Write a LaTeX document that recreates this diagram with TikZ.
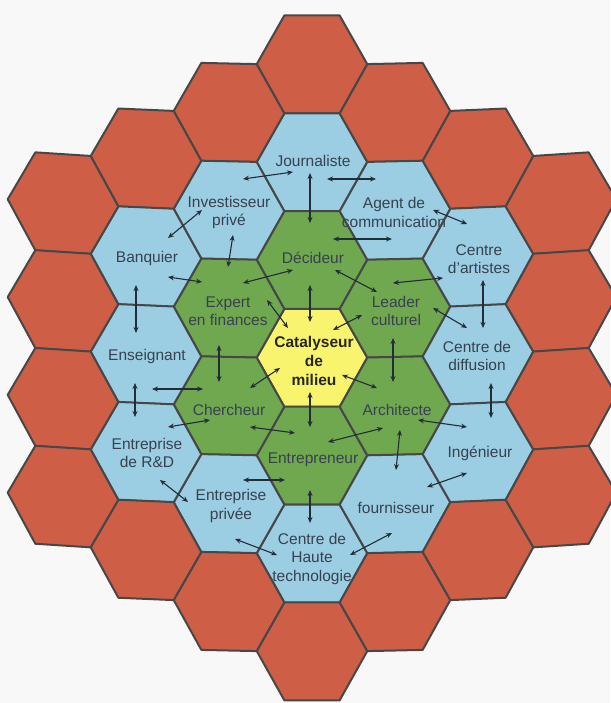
\documentclass[tikz,border=0pt]{standalone}
\usepackage{fontspec}
\setmainfont{Liberation Sans}
\usetikzlibrary{arrows.meta}
\definecolor{hexred}{RGB}{206,94,70}
\definecolor{hexblue}{RGB}{155,205,227}
\definecolor{hexgreen}{RGB}{112,168,80}
\definecolor{hexyellow}{RGB}{249,244,110}
\definecolor{hexline}{RGB}{70,72,72}
\definecolor{txt}{RGB}{55,65,80}
\definecolor{arrc}{RGB}{35,45,55}
\definecolor{bgc}{RGB}{248,248,248}
\tikzset{
  hexcellstyle/.style={draw=hexline, line width=2pt, line join=round},
  lab/.style={font=\fontsize{15.5}{18.5}\selectfont, text=txt, align=center, inner sep=0pt},
  catlab/.style={font=\fontsize{15.5}{19}\selectfont\bfseries, text=black!85, align=center, inner sep=0pt},
  arr/.style={arrc, line width=1.1pt, {Stealth[length=6pt,width=5pt]}-{Stealth[length=6pt,width=5pt]}}
}
\newcommand\hexcell[3]{%
  \pgfmathsetmacro\hxA{#1+55.3}%
  \pgfmathsetmacro\hxB{#1+27.65}%
  \pgfmathsetmacro\hxC{#1-27.65}%
  \pgfmathsetmacro\hxD{#1-55.3}%
  \pgfmathsetmacro\hyA{#2-((\hxA-312)*0.0114)*((\hxA-312)*0.0114)}%
  \pgfmathsetmacro\hyB{#2+49-((\hxB-312)*0.0114)*((\hxB-312)*0.0114)}%
  \pgfmathsetmacro\hyC{#2+49-((\hxC-312)*0.0114)*((\hxC-312)*0.0114)}%
  \pgfmathsetmacro\hyD{#2-((\hxD-312)*0.0114)*((\hxD-312)*0.0114)}%
  \pgfmathsetmacro\hyE{#2-49-((\hxC-312)*0.0114)*((\hxC-312)*0.0114)}%
  \pgfmathsetmacro\hyF{#2-49-((\hxB-312)*0.0114)*((\hxB-312)*0.0114)}%
  \filldraw[hexcellstyle, fill=#3] (\hxA,\hyA) -- (\hxB,\hyB) -- (\hxC,\hyC) -- (\hxD,\hyD) -- (\hxC,\hyE) -- (\hxB,\hyF) -- cycle;%
}
\begin{document}
\begin{tikzpicture}[x=1pt,y=-1pt]
\fill[bgc] (0,0) rectangle (610,703);
\useasboundingbox (0,0) rectangle (610,703);
% hexagon grid
\foreach \hx/\hy/\hc in {
  312/64.6/hexred, 312/162.4/hexblue, 312/260.2/hexgreen, 312/358/hexyellow,
  312/455.8/hexgreen, 312/553.6/hexblue, 312/651.4/hexred,
  229/113.5/hexred, 229/211.3/hexblue, 229/309.1/hexgreen, 229/406.9/hexgreen, 229/504.7/hexblue, 229/602.5/hexred,
  395/113.5/hexred, 395/211.3/hexblue, 395/309.1/hexgreen, 395/406.9/hexgreen, 395/504.7/hexblue, 395/602.5/hexred,
  146/162.4/hexred, 146/260.2/hexblue, 146/358/hexblue, 146/455.8/hexblue, 146/553.6/hexred,
  478/162.4/hexred, 478/260.2/hexblue, 478/358/hexblue, 478/455.8/hexblue, 478/553.6/hexred,
  63/211.3/hexred, 63/309.1/hexred, 63/406.9/hexred, 63/504.7/hexred,
  561/211.3/hexred, 561/309.1/hexred, 561/406.9/hexred, 561/504.7/hexred}
  {\hexcell{\hx}{\hy}{\hc}}
% labels
\node[lab] (jour) at (313,161) {Journaliste};
\node[lab] (inv) at (229,212.5) {Investisseur\\privé};
\node[lab] (agent) at (394,212.5) {Agent de\\communication};
\node[lab] (banq) at (147,258) {Banquier};
\node[lab] (deci) at (313,258) {Décideur};
\node[lab] (cart) at (479,259) {Centre\\d'artistes};
\node[lab] (expert) at (228,311) {Expert\\en finances};
\node[lab] (leader) at (396,311) {Leader\\culturel};
\node[catlab] (cat) at (314,361) {Catalyseur\\de\\milieu};
\node[lab] (ens) at (147,356) {Enseignant};
\node[lab] (cdiff) at (477,356) {Centre de\\diffusion};
\node[lab] (cherch) at (229,410) {Chercheur};
\node[lab] (archi) at (397,410) {Architecte};
\node[lab] (rd) at (147,453) {Entreprise\\de R\&D};
\node[lab] (ing) at (480,453) {Ingénieur};
\node[lab] (entr) at (313,460) {Entrepreneur};
\node[lab] (epriv) at (231,506) {Entreprise\\privée};
\node[lab] (fourn) at (396,508) {fournisseur};
\node[lab] (cht) at (312,558.5) {Centre de\\Haute\\technologie};
% arrows
\draw[arr] (243,179) -- (293,172);
\draw[arr] (327,179) -- (376,179);
\draw[arr] (310,173) -- (310,223);
\draw[arr] (433,210) -- (467,224);
\draw[arr] (202,210) -- (168,238);
\draw[arr] (233,235) -- (228,267);
\draw[arr] (333,239) -- (392,239);
\draw[arr] (293,270) -- (243,283);
\draw[arr] (335,270) -- (377,292);
\draw[arr] (310,285) -- (310,322);
\draw[arr] (267,300) -- (288,328);
\draw[arr] (362,315) -- (333,330);
\draw[arr] (280,368) -- (250,388);
\draw[arr] (342,375) -- (377,388);
\draw[arr] (310,392) -- (310,427);
\draw[arr] (219,345) -- (219,382);
\draw[arr] (393,338) -- (393,382);
\draw[arr] (250,427) -- (295,433);
\draw[arr] (383,428) -- (328,442);
\draw[arr] (400,430) -- (396,470);
\draw[arr] (393,283) -- (443,278);
\draw[arr] (433,308) -- (467,328);
\draw[arr] (483,280) -- (483,328);
\draw[arr] (491,383) -- (491,418);
\draw[arr] (418,420) -- (467,427);
\draw[arr] (427,487) -- (467,473);
\draw[arr] (350,555) -- (392,533);
\draw[arr] (235,539) -- (277,555);
\draw[arr] (310,490) -- (310,523);
\draw[arr] (243,480) -- (285,480);
\draw[arr] (160,480) -- (188,502);
\draw[arr] (135,383) -- (135,417);
\draw[arr] (152,389) -- (203,389);
\draw[arr] (168,427) -- (210,420);
\draw[arr] (136,285) -- (136,333);
\draw[arr] (168,277) -- (202,282);
\end{tikzpicture}
\end{document}
